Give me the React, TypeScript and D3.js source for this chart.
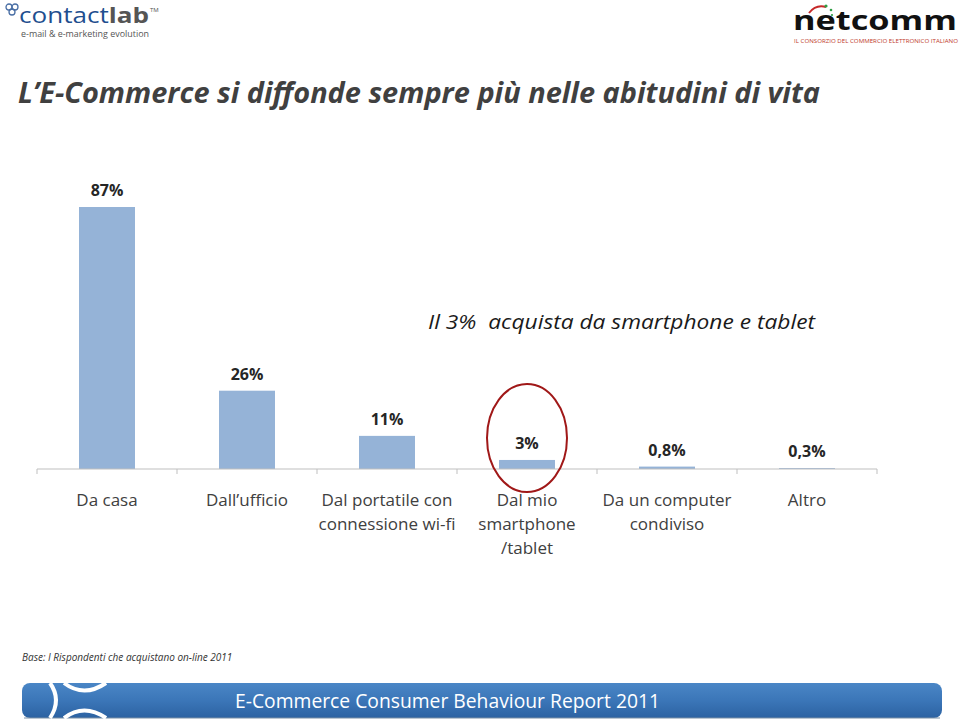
import React from 'react';
import * as d3 from 'd3';

const categories = ['Da casa', 'Dall’ufficio', 'Dal portatile con\nconnessione wi-fi', 'Dal mio\nsmartphone\n/tablet', 'Da un computer\ncondiviso', 'Altro'];
const values = [87, 26, 11, 3, 0.8, 0.3];
const valueLabels = ['87%', '26%', '11%', '3%', '0,8%', '0,3%'];

const W = 960;
const H = 724;

const App = () => {
  // chart area
  const x = d3.scaleBand<string>()
    .domain(categories)
    .range([37, 877])
    .paddingInner(0.6)
    .paddingOuter(0.3);

  const y = d3.scaleLinear()
    .domain([0, 87])
    .range([469, 207]);

  const ticks = categories.map((c) => (x(c) as number) - x.step() * 0.3).concat([877]);
  const hi = categories[3];
  const hiCx = (x(hi) as number) + x.bandwidth() / 2;

  const font = 'Open Sans, Liberation Sans, sans-serif';

  return (
    <svg width={W} height={H} style={{ position: 'absolute', left: 0, top: 0, background: '#fff' }}>
      <defs>
        <linearGradient id="banner" x1="0" y1="0" x2="0" y2="1">
          <stop offset="0" stopColor="#4a86c6" />
          <stop offset="0.5" stopColor="#3b76b8" />
          <stop offset="1" stopColor="#2c62a2" />
        </linearGradient>
      </defs>

      {/* contactlab logo */}
      <g fill="none" stroke="#4a6fa5" strokeWidth={1.3}>
        <circle cx={9} cy={7} r={3} />
        <circle cx={15} cy={7} r={3} />
        <circle cx={12} cy={12} r={3} />
      </g>
      <text x={19} y={23} fontFamily={font} fontSize={21} fill="#1f4f8f" textLength={130} lengthAdjust="spacingAndGlyphs">contact<tspan fontWeight="bold" fill="#555">lab</tspan></text>
      <text x={150} y={12} fontFamily={font} fontSize={6} fill="#555">TM</text>
      <text x={21} y={37} fontFamily={font} fontSize={9} fill="#555" textLength={128} lengthAdjust="spacingAndGlyphs">e-mail &amp; e-marketing evolution</text>

      {/* netcomm logo */}
      <text x={793} y={30} fontFamily={font} fontSize={27} fontWeight="bold" fill="#111" textLength={164} lengthAdjust="spacingAndGlyphs">netcomm</text>
      <path d="M809 13 Q816 4 826 7" fill="none" stroke="#c62828" strokeWidth={2} />
      <g fill="#2e9e44">
        <circle cx={826} cy={6} r={1.6} />
        <circle cx={831} cy={10} r={1.3} />
        <circle cx={832} cy={15} r={1.1} />
      </g>
      <text x={794} y={43} fontFamily={font} fontSize={5} fill="#c0392b" textLength={164} lengthAdjust="spacingAndGlyphs">IL CONSORZIO DEL COMMERCIO ELETTRONICO ITALIANO</text>

      {/* title */}
      <text x={18} y={103} fontFamily={font} fontSize={29} fontWeight="bold" fontStyle="italic" fill="#404040"
        textLength={802} lengthAdjust="spacingAndGlyphs">L’E-Commerce si diffonde sempre più nelle abitudini di vita</text>

      {/* annotation */}
      <text x={428} y={329} fontFamily={font} fontSize={20} fontStyle="italic" fill="#1a1a1a" xmlSpace="preserve"
        textLength={387} lengthAdjust="spacingAndGlyphs">Il 3%  acquista da smartphone e tablet</text>

      {/* bars */}
      {categories.map((c, i) => (
        <rect key={c} x={x(c)} y={y(values[i])} width={x.bandwidth()} height={y(0) - y(values[i])} fill="#95b3d7" />
      ))}

      {/* value labels */}
      {categories.map((c, i) => (
        <text key={c} x={(x(c) as number) + x.bandwidth() / 2} y={y(values[i]) - 11} textAnchor="middle"
          fontFamily={font} fontSize={16} fontWeight="bold" fill="#262626">{valueLabels[i]}</text>
      ))}

      {/* axis */}
      <line x1={37} x2={877} y1={y(0)} y2={y(0)} stroke="#bfbfbf" strokeWidth={1} />
      {ticks.map((t) => (
        <line key={t} x1={t} x2={t} y1={y(0)} y2={y(0) + 5} stroke="#bfbfbf" strokeWidth={1} />
      ))}

      {/* category labels */}
      {categories.map((c) => (
        <text key={c} textAnchor="middle" fontFamily={font} fontSize={17} fill="#404040">
          {c.split('\n').map((line, j) => (
            <tspan key={j} x={(x(c) as number) + x.bandwidth() / 2} y={506 + j * 24}>{line}</tspan>
          ))}
        </text>
      ))}

      {/* highlight ellipse */}
      <ellipse cx={hiCx} cy={438} rx={40} ry={54} fill="none" stroke="#a01818" strokeWidth={2} />

      {/* footer */}
      <text x={22} y={661} fontFamily={font} fontSize={10} fontStyle="italic" fill="#333">Base: I Rispondenti che acquistano on-line 2011</text>

      <rect x={22} y={683} width={920} height={35} rx={8} fill="url(#banner)" />
      <rect x={24} y={717} width={916} height={2} fill="#7a8fa6" opacity={0.5} />
      <g fill="none" stroke="#fff" strokeWidth={4}>
        <path d="M50 683 Q62 700 50 718" />
        <path d="M64 683 Q84 698 106 683" />
        <path d="M64 718 Q84 703 106 718" />
      </g>
      <text x={235} y={708} fontFamily={font} fontSize={20} fill="#fff" textLength={425} lengthAdjust="spacingAndGlyphs">E-Commerce Consumer Behaviour Report 2011</text>
    </svg>
  );
};

export default App;
